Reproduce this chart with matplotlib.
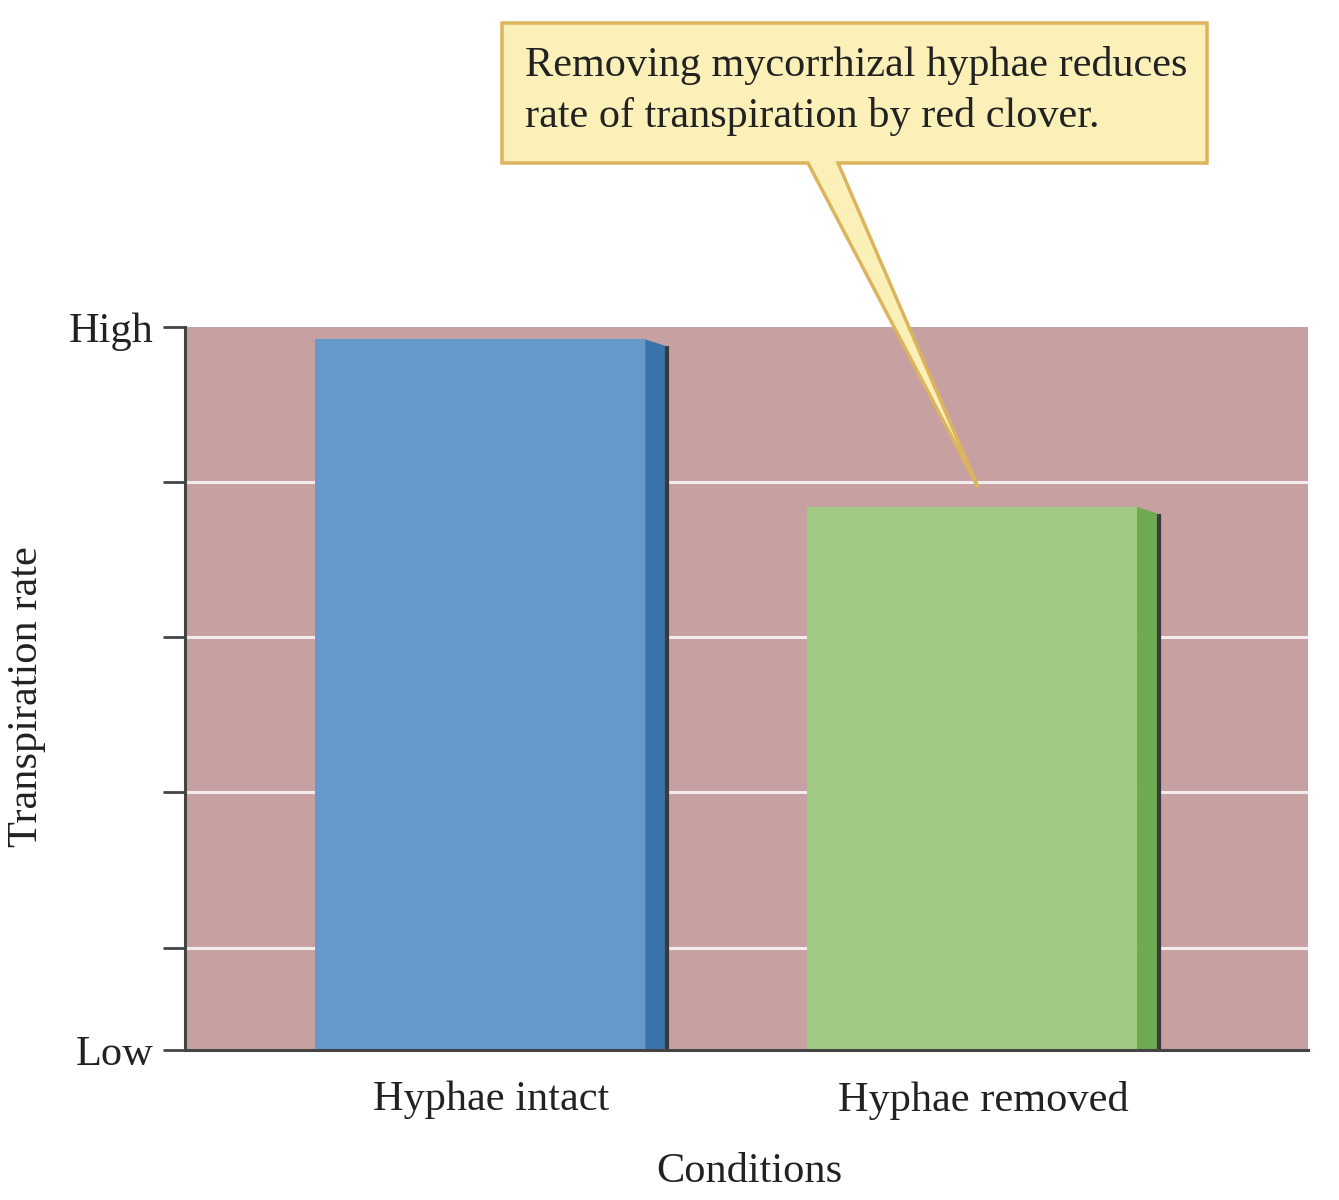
import matplotlib
matplotlib.use("Agg")
import matplotlib.pyplot as plt
from matplotlib.patches import Polygon

# ---- data ----
categories = ["Hyphae intact", "Hyphae removed"]
values = [4.58, 3.50]          # transpiration rate, axis units (Low = 0, High = 4.66)
tick_values = [0, 0.66, 1.66, 2.66, 3.66, 4.66]
tick_labels = ["Low", "", "", "", "", "High"]
callout_text = "Removing mycorrhizal hyphae reduces\nrate of transpiration by red clover."

front_colors = ["#6499CA", "#A0CA84"]
side_colors = ["#3B74AA", "#6DAA52"]

plt.rcParams["font.family"] = ["Liberation Serif", "DejaVu Serif"]
FS = 30.5

W, H = 1339, 1200
fig = plt.figure(figsize=(W / 100, H / 100), dpi=100)
ax = fig.add_axes([185 / W, 1 - 1050 / H, (1308 - 185) / W, (1050 - 327) / H])
ax.set_facecolor("#C7A0A2")

ax.set_xlim(-0.6, 1.683)
ax.set_ylim(0, 4.66)

width = 0.671
depth_x = 0.045
depth_y = 0.045
xs = [0, 1]

# grid lines
for t in tick_values[1:-1]:
    ax.axhline(t, color="#F2ECEC", lw=2.2, zorder=1)

for x, v, fc, sc in zip(xs, values, front_colors, side_colors):
    ax.bar(x, v, width=width, color=fc, zorder=3, linewidth=0)
    r = x + width / 2
    side = Polygon([(r, 0), (r, v), (r + depth_x, v - depth_y), (r + depth_x, 0)],
                   closed=True, facecolor=sc, edgecolor="none", zorder=3)
    ax.add_patch(side)
    ax.plot([r + depth_x, r + depth_x], [0, v - depth_y], color="#3A3A3A", lw=3,
            zorder=4, solid_capstyle="butt")

ax.set_yticks(tick_values)
ax.set_yticklabels(tick_labels, fontsize=FS, color="#222222")
ax.tick_params(axis="y", length=16, width=2, color="#444444", pad=7)
ax.set_xticks([x + depth_x / 2 for x in xs])
ax.set_xticklabels(categories, fontsize=FS, color="#222222")
ax.tick_params(axis="x", length=0, pad=22)

for s in ["top", "right"]:
    ax.spines[s].set_visible(False)
for s in ["left", "bottom"]:
    ax.spines[s].set_color("#444444")
    ax.spines[s].set_linewidth(2.2)
    ax.spines[s].set_zorder(5)

fig.text(27 / W, 1 - 697 / H, "Transpiration rate", rotation=90, fontsize=FS,
         color="#222222", ha="center", va="center")
fig.text(749 / W, 1 - 1172 / H, "Conditions", fontsize=FS, color="#222222",
         ha="center", va="center")

# callout box with pointer (figure pixel coords)
pts = [(502, 23), (1207, 23), (1207, 163), (838, 163), (978, 487), (808, 163), (502, 163)]
poly = Polygon([(px / W, 1 - py / H) for px, py in pts], closed=True,
               facecolor="#FBF0B8", edgecolor="#DDB45E", lw=2.5,
               transform=fig.transFigure, zorder=10)
fig.add_artist(poly)
fig.text(525 / W, 1 - 91 / H, callout_text, fontsize=30.4, color="#222222",
         ha="left", va="center", linespacing=1.42, zorder=11)

fig.savefig("out.png", dpi=100, facecolor="white")
